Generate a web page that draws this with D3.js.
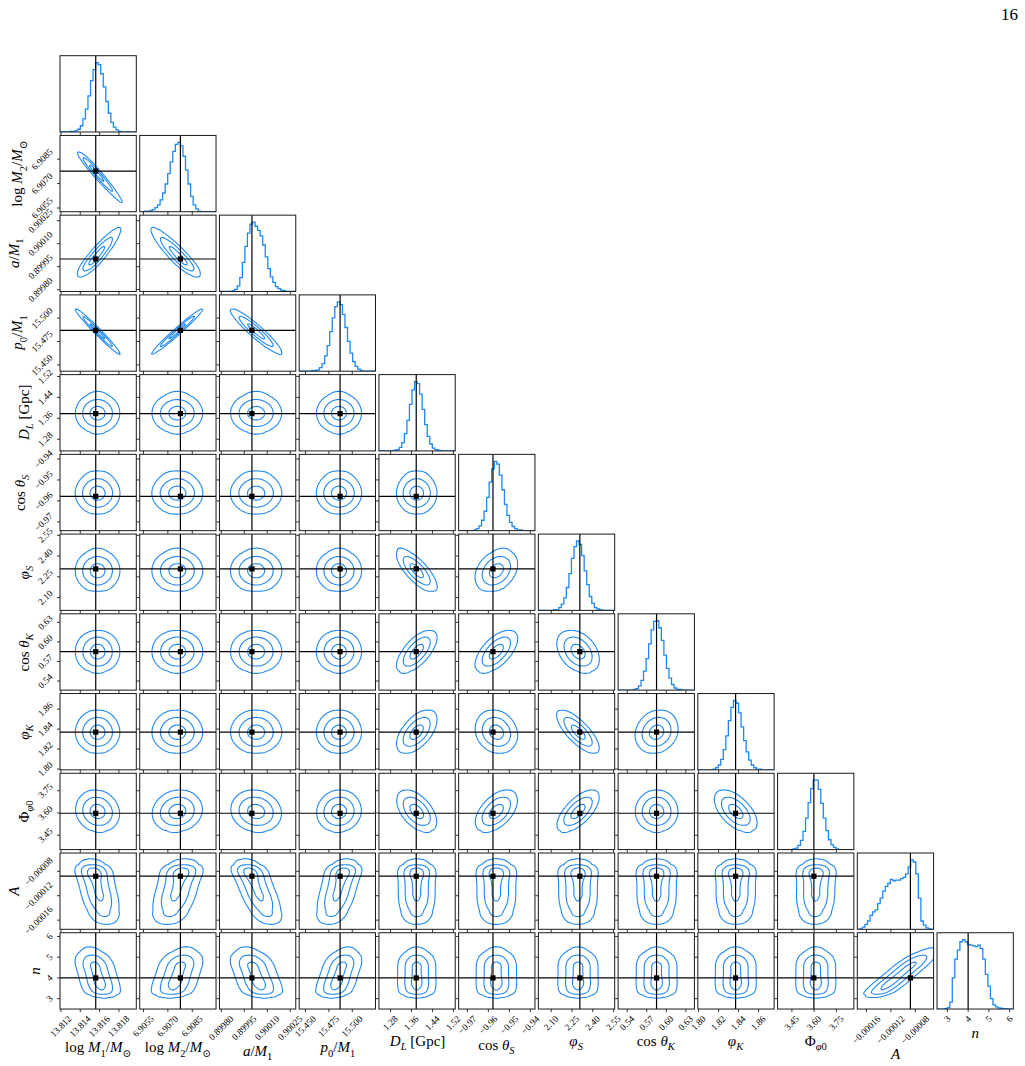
<!DOCTYPE html>
<html><head><meta charset="utf-8">
<script src="https://cdn.jsdelivr.net/npm/d3@7"></script>
<style>
body{margin:0;background:#fff}
svg{display:block}
svg text{font-family:"Liberation Serif","DejaVu Serif",serif;fill:#000}
</style>
</head><body>
<svg id="c" width="1025" height="1066"></svg>
<script>
// ---------------- data ----------------
const params = ["logM1","logM2","aM1","p0M1","DL","cosThS","phiS","cosThK","phiK","Phi0","A","n"];
const lo = [13.8119, 6.90527, 0.899788, 15.4433, 1.2354, -0.97416, 2.0073, 0.526, 1.7992, 3.3534, -0.000175, 2.5];
const hi = [13.8198, 6.90996, 0.900286, 15.5248, 1.527, -0.9378, 2.5587, 0.6431, 1.8756, 3.8676, -0.00005, 6.18];
const truths = [13.8156, 6.90777, 0.90000, 15.4870, 1.378, -0.9578, 2.307, 0.585, 1.837, 3.598, -0.000088, 4.0];

const tickVals = [
  [13.812, 13.814, 13.816, 13.818],
  [6.9055, 6.9070, 6.9085],
  [0.89980, 0.89995, 0.90010, 0.90025],
  [15.450, 15.475, 15.500],
  [1.28, 1.36, 1.44, 1.52],
  [-0.97, -0.96, -0.95, -0.94],
  [2.10, 2.25, 2.40, 2.55],
  [0.54, 0.57, 0.60, 0.63],
  [1.80, 1.82, 1.84, 1.86],
  [3.45, 3.60, 3.75],
  [-0.00016, -0.00012, -0.00008],
  [3, 4, 5, 6]
];
const tickLabels = [
  ["13.812", "13.814", "13.816", "13.818"],
  ["6.9055", "6.9070", "6.9085"],
  ["0.89980", "0.89995", "0.90010", "0.90025"],
  ["15.450", "15.475", "15.500"],
  ["1.28", "1.36", "1.44", "1.52"],
  ["\u22120.97", "\u22120.96", "\u22120.95", "\u22120.94"],
  ["2.10", "2.25", "2.40", "2.55"],
  ["0.54", "0.57", "0.60", "0.63"],
  ["1.80", "1.82", "1.84", "1.86"],
  ["3.45", "3.60", "3.75"],
  ["\u22120.00016", "\u22120.00012", "\u22120.00008"],
  ["3", "4", "5", "6"]
];

// 1-D histograms (30 bins each over [lo, hi])
const histLogM1 = [0,0,0,0,1,1,2,4,9,19,33,52,74,90,100,97,84,65,44,27,14,7,3,1,0,0,0,0,0,0];
const histLogM2 = [0,0,1,1,2,3,6,10,17,27,40,55,72,87,97,100,95,80,60,40,22,10,4,1,0,0,0,0,0,0];
const histAM1   = [0,0,0,0,0,1,3,8,20,42,65,84,97,100,94,88,80,67,50,33,21,13,7,4,2,1,0,0,0,0];
const histP0M1  = [0,0,0,0,0,1,1,2,5,11,22,37,57,77,93,100,96,82,63,43,26,14,7,3,1,0,0,0,0,0];
const histDL    = [0,0,0,0,0,0,1,2,5,12,25,44,67,88,100,97,82,60,38,21,10,4,2,1,0,0,0,0,0,0];
const histCosS  = [0,0,0,0,0,0,1,3,7,15,28,48,70,89,100,96,80,59,38,22,12,6,3,1,1,0,0,0,0,0];
const histPhiS  = [0,0,0,0,0,0,1,1,4,9,18,33,53,75,92,100,95,79,57,37,20,10,4,2,1,0,0,0,0,0];
const histCosK  = [0,0,0,0,0,0,1,2,6,14,27,45,66,86,98,99,89,71,50,31,17,8,3,1,1,0,0,0,0,0];
const histPhiK  = [0,0,0,0,0,0,1,3,7,15,29,49,71,90,100,96,82,62,42,26,14,7,3,1,1,0,0,0,0,0];
const histPhi0  = [0,0,0,0,0,0,1,2,6,13,26,45,67,87,99,99,86,66,45,27,14,7,3,1,0,0,0,0,0,0];
const histA     = [0,0.5,3,7,12,20,25,28,37,45,55,62,66,72,70,71,71,73,75,80,90,100,97,80,45,12,6,2,0.5,0];
const histN     = [0,0,0,0.5,2,10,45,72,85,97,100,97,93,92,91,90,92,87,72,50,33,15,6,3,1.5,1,0.5,0.3,0,0];

// pairwise correlations, lower triangle (row i, column j < i)
const corrRows = [
  [],
  [-0.97],
  [0.90, -0.90],
  [-0.98, 0.98, -0.93],
  [0, 0, 0, 0],
  [0, 0, 0, 0, 0],
  [0, 0, 0, 0, -0.75, 0.30],
  [0, 0, 0, 0, 0.65, 0.60, -0.35],
  [0, 0, 0, 0, 0.55, -0.15, -0.75, 0.15],
  [-0.10, 0.10, -0.10, 0.05, -0.50, 0.50, 0.65, 0, -0.55],
  [-0.45, 0.45, -0.65, 0.50, 0, 0, 0, 0, 0, 0.05],
  [-0.40, 0.40, -0.45, 0.45, 0, 0, 0, 0, 0, 0, 0.90]
];
const contourMass = [0.393, 0.865, 0.989];

// axis labels: [text, style] where style: i = italic, s = subscript
const axisLabels = [
  [["log ", ""], ["M", "i"], ["1", "s"], ["/", ""], ["M", "i"], ["\u2299", "s"]],
  [["log ", ""], ["M", "i"], ["2", "s"], ["/", ""], ["M", "i"], ["\u2299", "s"]],
  [["a", "i"], ["/", ""], ["M", "i"], ["1", "s"]],
  [["p", "i"], ["0", "s"], ["/", ""], ["M", "i"], ["1", "s"]],
  [["D", "i"], ["L", "si"], [" [Gpc]", ""]],
  [["cos ", ""], ["\u03b8", "i"], ["S", "si"]],
  [["\u03c6", "i"], ["S", "si"]],
  [["cos ", ""], ["\u03b8", "i"], ["K", "si"]],
  [["\u03c6", "i"], ["K", "si"]],
  [["\u03a6", ""], ["\u03c6", "si"], ["0", "s"]],
  [["A", "i"]],
  [["n", "i"]]
];
const pageNumber = "16";

// ---------------- layout ----------------
const hists = [histLogM1, histLogM2, histAM1, histP0M1, histDL, histCosS, histPhiS, histCosK, histPhiK, histPhi0, histA, histN];
const K = params.length, NB = 30;
const X0 = 60, Y0 = 55.7, S = 76.3, STEP = 79.73;
const BLUE = "#1e88f0";
const svg = d3.select("#c");

const xScale = params.map((p, k) => d3.scaleLinear().domain([lo[k], hi[k]]).range([0, S]));
const yScale = params.map((p, k) => d3.scaleLinear().domain([lo[k], hi[k]]).range([S, 0]));

function stats(k) {
  const h = hists[k]; let sw = 0, s1 = 0, s2 = 0;
  h.forEach((v, b) => { const c = (b + 0.5) / NB; sw += v; s1 += v * c; s2 += v * c * c; });
  const m = s1 / sw, sd = Math.sqrt(s2 / sw - m * m);
  const r = hi[k] - lo[k];
  return { m: lo[k] + m * r, s: sd * r };
}
const st = params.map((p, k) => stats(k));
function hAt(k, v) {
  const t = (v - lo[k]) / (hi[k] - lo[k]) * NB - 0.5;
  const h = hists[k];
  const b = Math.floor(t), f = t - b;
  const a = h[Math.max(0, Math.min(NB - 1, b))], c = h[Math.max(0, Math.min(NB - 1, b + 1))];
  return a + (c - a) * f;
}

function renderLabel(sel, segs, fs) {
  let inSub = false;
  segs.forEach(([t, s]) => {
    const sub = s.includes("s");
    const ts = sel.append("tspan").text(t)
      .attr("font-size", sub ? fs * 0.7 : fs)
      .attr("font-style", s.includes("i") ? "italic" : "normal");
    if (sub && !inSub) ts.attr("dy", fs * 0.28);
    if (!sub && inSub) ts.attr("dy", -fs * 0.28);
    inSub = sub;
  });
}

const G = 90;
for (let i = 0; i < K; i++) {
  for (let j = 0; j <= i; j++) {
    const gx = X0 + j * STEP, gy = Y0 + i * STEP;
    const g = svg.append("g").attr("transform", `translate(${gx},${gy})`);
    const cid = `clip${i}_${j}`;
    g.append("clipPath").attr("id", cid).append("rect").attr("width", S).attr("height", S);
    const inner = g.append("g").attr("clip-path", `url(#${cid})`);
    const xs = xScale[j];
    if (i === j) {
      const h = hists[i];
      const hy = d3.scaleLinear().domain([0, 1.1 * d3.max(h)]).range([S, 0]);
      const pts = h.map((v, b) => [lo[i] + (hi[i] - lo[i]) * b / NB, v]);
      pts.push([hi[i], h[NB - 1]]);
      const line = d3.line().x(d => xs(d[0])).y(d => hy(d[1])).curve(d3.curveStepAfter);
      inner.append("path").attr("d", line(pts)).attr("fill", "none")
        .attr("stroke", BLUE).attr("stroke-width", 1.3);
      inner.append("line").attr("x1", xs(truths[i])).attr("x2", xs(truths[i]))
        .attr("y1", 0).attr("y2", S).attr("stroke", "#000").attr("stroke-width", 1.2);
    } else {
      const ys = yScale[i];
      const rho = corrRows[i][j];
      const sx = st[j], sy = st[i];
      const vals = new Float64Array(G * G);
      const sd = sx.s * Math.sqrt(1 - rho * rho);
      for (let r = 0; r < G; r++) {
        const yv = lo[i] + (r + 0.5) / G * (hi[i] - lo[i]);
        const py = Math.max(0, hAt(i, yv));
        const mu = sx.m + rho * (sx.s / sy.s) * (yv - sy.m);
        for (let c = 0; c < G; c++) {
          const xv = lo[j] + (c + 0.5) / G * (hi[j] - lo[j]);
          const z = (xv - mu) / sd;
          vals[r * G + c] = py * Math.exp(-0.5 * z * z);
        }
      }
      const sorted = Array.from(vals).sort((a, b) => b - a);
      const tot = d3.sum(sorted);
      const th = contourMass.map(m => {
        let cum = 0;
        for (let q = 0; q < sorted.length; q++) { cum += sorted[q]; if (cum >= m * tot) return sorted[q]; }
        return sorted[sorted.length - 1];
      }).sort((a, b) => a - b);
      const conts = d3.contours().size([G, G]).thresholds(th)(vals);
      const path = d3.geoPath(d3.geoTransform({
        point: function (x, y) {
          this.stream.point(xs(lo[j] + x / G * (hi[j] - lo[j])), ys(lo[i] + y / G * (hi[i] - lo[i])));
        }
      }));
      inner.selectAll("path.ct").data(conts).join("path").attr("class", "ct")
        .attr("d", path).attr("fill", "none").attr("stroke", BLUE).attr("stroke-width", 1.1);
      inner.append("line").attr("x1", xs(truths[j])).attr("x2", xs(truths[j]))
        .attr("y1", 0).attr("y2", S).attr("stroke", "#000").attr("stroke-width", 1.2);
      inner.append("line").attr("y1", ys(truths[i])).attr("y2", ys(truths[i]))
        .attr("x1", 0).attr("x2", S).attr("stroke", "#000").attr("stroke-width", 1.2);
      inner.append("rect").attr("x", xs(truths[j]) - 2.6).attr("y", ys(truths[i]) - 2.6)
        .attr("width", 5.2).attr("height", 5.2).attr("fill", "#000");
      // left ticks
      tickVals[i].forEach(t => {
        const y = ys(t); if (y < -0.1 || y > S + 0.1) return;
        g.append("line").attr("x1", -3).attr("x2", 0).attr("y1", y).attr("y2", y)
          .attr("stroke", "#000").attr("stroke-width", 0.8);
      });
    }
    // bottom ticks
    tickVals[j].forEach(t => {
      const x = xs(t); if (x < -0.1 || x > S + 0.1) return;
      g.append("line").attr("x1", x).attr("x2", x).attr("y1", S).attr("y2", S + 3)
        .attr("stroke", "#000").attr("stroke-width", 0.8);
    });
    g.append("rect").attr("width", S).attr("height", S).attr("fill", "none")
      .attr("stroke", "#1a1a1a").attr("stroke-width", 1);
  }
}

// ---- text placement helpers (measure real boxes) ----
const svgRect = svg.node().getBoundingClientRect();
function box(node) {
  const r = node.getBoundingClientRect();
  return { left: r.left - svgRect.left, right: r.right - svgRect.left, top: r.top - svgRect.top, bottom: r.bottom - svgRect.top };
}
function place(txt, rot, fn) {
  txt.attr("transform", `rotate(${rot})`);
  const b = box(txt.node());
  const [dx, dy] = fn(b);
  txt.attr("transform", `translate(${dx},${dy}) rotate(${rot})`);
  return { left: b.left + dx, right: b.right + dx, top: b.top + dy, bottom: b.bottom + dy };
}

const TFS = 9.3;
const bottomY = Y0 + (K - 1) * STEP + S;
const colBottom = [];
for (let j = 0; j < K; j++) {
  const gx = X0 + j * STEP;
  let maxB = 0;
  tickVals[j].forEach((t, q) => {
    const x = xScale[j](t); if (x < -0.1 || x > S + 0.1) return;
    const txt = svg.append("text").attr("font-size", TFS).attr("text-anchor", "end").text(tickLabels[j][q]);
    const b = place(txt, -45, b => [gx + x - (b.left + b.right) / 2, bottomY + 4.5 - b.top]);
    maxB = Math.max(maxB, b.bottom);
  });
  colBottom.push(maxB);
}
const rowLeft = [];
for (let i = 1; i < K; i++) {
  const gy = Y0 + i * STEP;
  let minL = 1e9;
  tickVals[i].forEach((t, q) => {
    const y = yScale[i](t); if (y < -0.1 || y > S + 0.1) return;
    const txt = svg.append("text").attr("font-size", TFS).attr("text-anchor", "end").text(tickLabels[i][q]);
    const b = place(txt, -45, b => [X0 - 5 - b.right, gy + y - (b.top + b.bottom) / 2]);
    minL = Math.min(minL, b.left);
  });
  rowLeft[i] = minL;
}

// axis labels
const LFS = 15;
for (let j = 0; j < K; j++) {
  const t = svg.append("text").attr("text-anchor", "middle");
  renderLabel(t, axisLabels[j], LFS);
  const cx = X0 + j * STEP + S / 2;
  place(t, 0, b => [cx - (b.left + b.right) / 2, colBottom[j] + 0.5 - b.top]);
}
for (let i = 1; i < K; i++) {
  const cy = Y0 + i * STEP + S / 2;
  const t = svg.append("text").attr("text-anchor", "middle");
  renderLabel(t, axisLabels[i], LFS);
  place(t, -90, b => [rowLeft[i] - 1 - b.right, cy - (b.top + b.bottom) / 2]);
}

svg.append("text").attr("x", 1018).attr("y", 20).attr("text-anchor", "end")
  .attr("font-size", 17).text(pageNumber);
</script>
</body></html>
